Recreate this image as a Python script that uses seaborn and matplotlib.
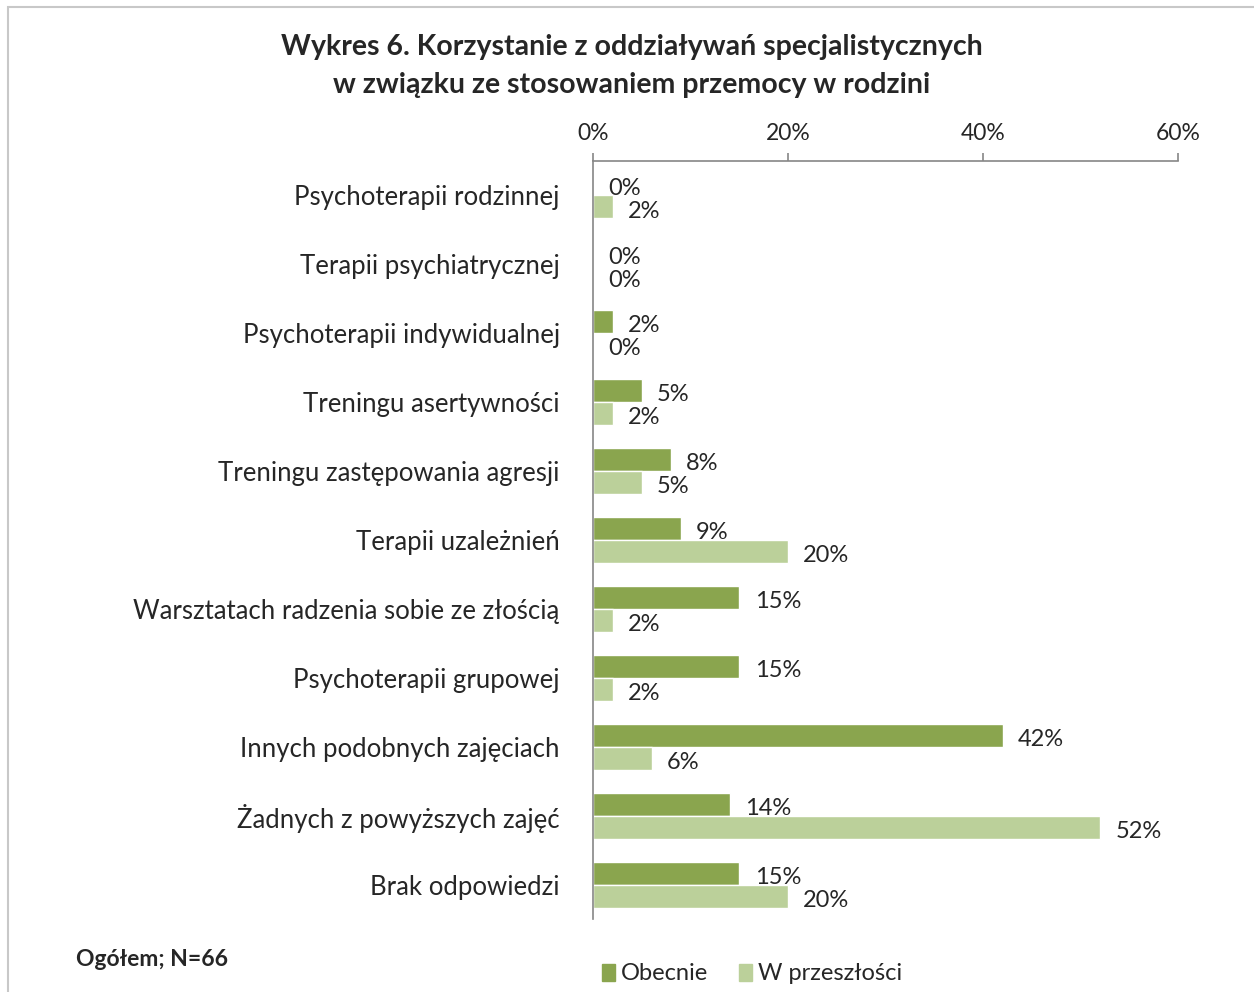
import numpy as np
import pandas as pd
import matplotlib
matplotlib.use("Agg")
import matplotlib.pyplot as plt
import seaborn as sns
from matplotlib.patches import Rectangle

# data
categories = ["Psychoterapii rodzinnej", "Terapii psychiatrycznej", "Psychoterapii indywidualnej",
              "Treningu asertywności", "Treningu zastępowania agresji", "Terapii uzależnień",
              "Warsztatach radzenia sobie ze złością", "Psychoterapii grupowej",
              "Innych podobnych zajęciach", "Żadnych z powyższych zajęć", "Brak odpowiedzi"]
obecnie = [0, 0, 2, 5, 8, 9, 15, 15, 42, 14, 15]
przeszlosc = [2, 0, 0, 2, 5, 20, 2, 2, 6, 52, 20]
series = ["Obecnie", "W przeszłości"]
colors = ["#8AA54E", "#BBD09A"]

df = pd.DataFrame({"Kategoria": categories * 2,
                   "Seria": [series[0]] * len(categories) + [series[1]] * len(categories),
                   "Wartosc": obecnie + przeszlosc})

sns.set_style("white")
plt.rcParams["font.family"] = ["Lato", "DejaVu Sans"]

fig = plt.figure(figsize=(12.54, 9.92), dpi=100)
ax = fig.add_axes([593/1254, 1-919/992, 585/1254, 758/992])

sns.barplot(data=df, y="Kategoria", x="Wartosc", hue="Seria", orient="h",
            palette=colors, width=0.667, order=categories, hue_order=series,
            saturation=1, errorbar=None, ax=ax)

# value labels, nudged a little below the bar centre like the original
for cont in ax.containers:
    for lbl in ax.bar_label(cont, fmt="%d%%", padding=11, fontsize=17):
        lbl.xyann = (11, -3)

ax.set_xlim(0, 60)
ax.set_xticks([0, 20, 40, 60])
ax.set_xticklabels(["0%", "20%", "40%", "60%"])
ax.xaxis.tick_top()
ax.set_xlabel("")
ax.set_ylabel("")
ax.tick_params(axis="x", length=6, width=1.2, color="#868686", labelsize=16.5, pad=6, direction="out")
ax.set_yticks(np.arange(-0.5, len(categories) + 0.5, 1), minor=True)
ax.tick_params(axis="y", which="major", length=0, labelsize=18.5, pad=24)
ax.tick_params(axis="y", which="minor", length=6, width=1.2, color="#868686", direction="out")
for s in ["right", "bottom"]:
    ax.spines[s].set_visible(False)
for s in ["left", "top"]:
    ax.spines[s].set_color("#868686")
    ax.spines[s].set_linewidth(1.2)

ax.get_legend().remove()
handles = [Rectangle((0, 0), 1, 1, color=c) for c in colors]
fig.legend(handles, series, loc="center", bbox_to_anchor=(752/1254, 1-974/992), ncol=2,
           frameon=False, fontsize=17, handlelength=0.55, handleheight=0.75,
           handletextpad=0.25, columnspacing=1.3)

fig.text(632/1254, 1-66/992, "Wykres 6. Korzystanie z oddziaływań specjalistycznych\nw związku ze stosowaniem przemocy w rodzini",
         ha="center", va="center", fontsize=20.5, fontweight="bold", linespacing=1.56)
fig.text(76/1254, 1-959/992, "Ogółem; N=66", ha="left", va="center", fontsize=16.5, fontweight="bold")

# frame around the chart (top and left edges visible)
fig.patches.append(Rectangle((8/1254, -0.05), 1.2, 1-7/992+0.05, transform=fig.transFigure,
                             fill=False, edgecolor="#C8C8C8", linewidth=1.5))

fig.savefig("out.png", dpi=100)
